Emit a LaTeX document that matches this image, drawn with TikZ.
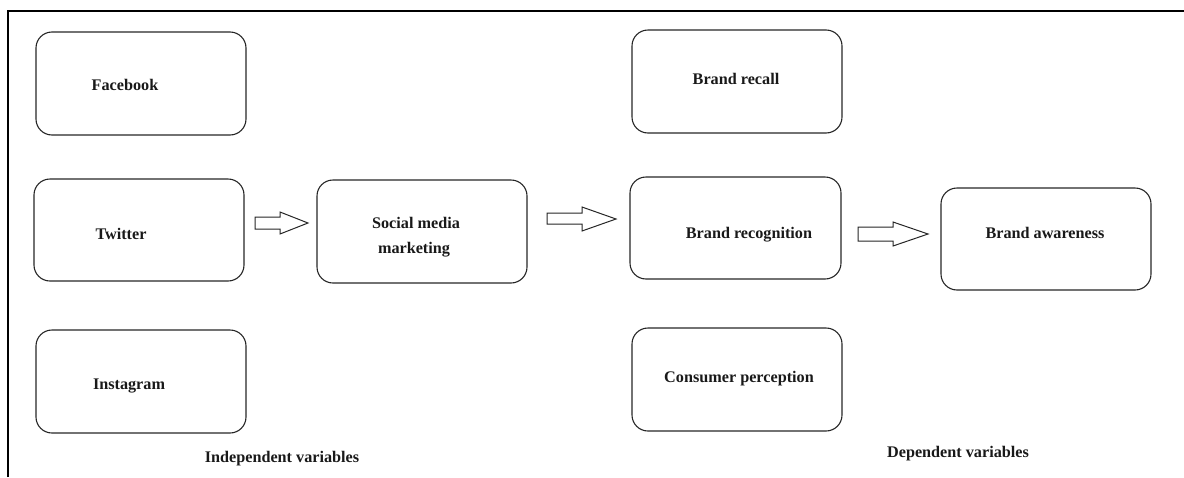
\documentclass[tikz,border=0pt]{standalone}
\usepackage{fontspec}
\setmainfont{Liberation Serif}
\begin{document}
\begin{tikzpicture}[x=1pt,y=-1pt,
  box/.style={draw=black!85, line width=1.1pt, rounded corners=16pt},
  lbl/.style={font=\fontsize{16.2}{19}\selectfont\bfseries, inner sep=0pt, text=black!90},
  blk/.style={draw=black!85, line width=1pt, fill=white}]
\useasboundingbox (0,0) rectangle (1184,477);
\draw[line width=1.2pt] (8,477) -- (8,11) -- (1184,11);
% boxes
\draw[box] (36,32) rectangle (246,135) node[pos=0.5,inner sep=0] (fb) {};
\draw[box] (34,179) rectangle (244,281) node[pos=0.5,inner sep=0] (tw) {};
\draw[box] (36,330) rectangle (246,433) node[pos=0.5,inner sep=0] (ig) {};
\draw[box] (317,180) rectangle (527,283) node[pos=0.5,inner sep=0] (smm) {};
\draw[box] (632,30) rectangle (842,133) node[pos=0.5,inner sep=0] (br) {};
\draw[box] (630,177) rectangle (841,279) node[pos=0.5,inner sep=0] (brg) {};
\draw[box] (632,328) rectangle (842,431) node[pos=0.5,inner sep=0] (cp) {};
\draw[box] (941,188) rectangle (1151,290) node[pos=0.5,inner sep=0] (ba) {};
% texts
\node[lbl] (tfb) at (125,85) {Facebook};
\node[lbl] (ttw) at (121,234) {Twitter};
\node[lbl] (tig) at (129,386) {Instagram};
\node[lbl] (tsm1) at (416,223) {Social media};
\node[lbl] (tsm2) at (414,250) {marketing};
\node[lbl] (tbr) at (736,79) {Brand recall};
\node[lbl] (tbrg) at (749,235) {Brand recognition};
\node[lbl] (tcp) at (739,379) {Consumer perception};
\node[lbl] (tba) at (1045,233) {Brand awareness};
\node[lbl] (tiv) at (282,459) {Independent variables};
\node[lbl] (tdv) at (958,454) {Dependent variables};
% block arrows
\draw[blk] (255,217) -- (280,217) -- (280,212) -- (308,223) -- (280,234) -- (280,229) -- (255,229) -- cycle;
\draw[blk] (547,213) -- (582,213) -- (582,207) -- (616,219) -- (582,231) -- (582,224) -- (547,224) -- cycle;
\draw[blk] (858,227) -- (893,227) -- (893,222) -- (928,234) -- (893,246) -- (893,241) -- (858,241) -- cycle;
\end{tikzpicture}
\end{document}
